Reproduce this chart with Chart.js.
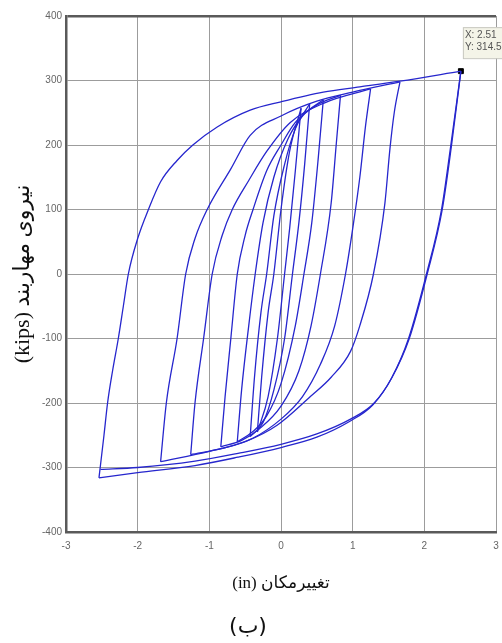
<!DOCTYPE html>
<html>
<head>
<meta charset="utf-8">
<script src="https://cdn.jsdelivr.net/npm/chart.js@4.4.1/dist/chart.umd.min.js"></script>
<style>
  body { margin: 0; background: #fff; }
  canvas { display: block; }
</style>
</head>
<body>
<canvas id="hyst" width="502" height="643"></canvas>
<script>
// hysteresis branches, [displacement (in), force (kips)]
// up = loading from negative peak, down = unloading from positive peak
var up1 = [[-0.33,-245],[-0.27,-160],[-0.18,-60],[-0.1,0],[0,100],[0.12,190],[0.28,257]];
var down1 = [[0.28,257],[0.2,160],[0.12,70],[0.05,0],[-0.05,-100],[-0.18,-190],[-0.33,-245]];
var up2 = [[-0.43,-252],[-0.37,-160],[-0.28,-60],[-0.2,0],[-0.1,90],[0.05,170],[0.2,225],[0.4,264]];
var down2 = [[0.4,264],[0.33,170],[0.25,80],[0.16,0],[0.05,-100],[-0.1,-180],[-0.25,-230],[-0.43,-252]];
var up3 = [[-0.61,-260],[-0.55,-180],[-0.45,-80],[-0.36,0],[-0.25,80],[-0.1,150],[0.1,210],[0.3,245],[0.59,270]];
var down3 = [[0.59,270],[0.52,180],[0.43,80],[0.32,0],[0.2,-80],[0,-170],[-0.2,-220],[-0.4,-245],[-0.61,-260]];
var up4 = [[-0.84,-268],[-0.78,-190],[-0.7,-100],[-0.61,0],[-0.5,60],[-0.39,100],[-0.2,160],[0,200],[0.2,235],[0.5,262],[0.83,277]];
var down4 = [[0.83,277],[0.77,200],[0.7,110],[0.55,0],[0.42,-80],[0.25,-150],[0,-205],[-0.3,-240],[-0.55,-258],[-0.84,-268]];
var up5 = [[-1.26,-280],[-1.2,-200],[-1.08,-100],[-0.96,0],[-0.82,60],[-0.68,100],[-0.45,145],[-0.2,190],[0.13,235],[0.6,265],[1.25,287]];
var down5 = [[1.25,287],[1.18,230],[1.1,150],[1.0,70],[0.9,0],[0.75,-80],[0.55,-140],[0.3,-190],[0,-225],[-0.4,-255],[-0.8,-270],[-1.26,-280]];
var up6 = [[-1.68,-291],[-1.6,-200],[-1.45,-100],[-1.33,0],[-1.2,55],[-1.03,100],[-0.7,163],[-0.43,215],[0,245],[0.5,268],[1.0,282],[1.66,298]];
var down6 = [[1.66,298],[1.58,250],[1.52,194],[1.45,110],[1.29,0],[1.1,-80],[0.97,-120],[0.7,-160],[0.41,-190],[-0.06,-235],[-0.5,-260],[-1.0,-275],[-1.68,-291]];
var up7 = [[-2.54,-316],[-2.47,-250],[-2.42,-200],[-2.35,-150],[-2.27,-100],[-2.2,-50],[-2.13,0],[-2.0,55],[-1.85,100],[-1.68,143],[-1.45,176],[-1.23,200],[-0.89,228],[-0.43,254],[0,267],[0.59,282],[1.1,290],[1.66,299],[2.51,314.5]];
var down7 = [[2.51,314.5],[2.38,200],[2.25,100],[2.04,0],[1.79,-100],[1.55,-160],[1.3,-200],[0.97,-225],[0.5,-248],[0,-264],[-0.6,-278],[-1.2,-290],[-2.0,-300],[-2.52,-303]];
var down7b = [[2.51,314.5],[2.37,200],[2.24,100],[2.03,0],[1.78,-100],[1.54,-162],[1.28,-203],[0.95,-229],[0.5,-253],[0,-269],[-0.6,-284],[-1.2,-297],[-2.0,-308],[-2.54,-316]];

var branches = [up1, down1, up2, down2, up3, down3, up4, down4, up5, down5, up6, down6, up7, down7, down7b];

// data tip shown on the plot
var tipX = 2.51;
var tipY = 314.5;

var xTicks = [-3, -2, -1, 0, 1, 2, 3];
var yTicks = [-400, -300, -200, -100, 0, 100, 200, 300, 400];

var yTitle = '\u202Bنیروی مهاربند (kips)\u202C';
var xTitle = '\u202Bتغییرمکان (in)\u202C';
var figLabel = '\u202B(ب)\u202C';

var lineColor = 'rgb(38,38,205)';
var gridColor = '#9c9c9c';
var frameColor = '#5a5a5a';

var datasets = branches.map(function(b) {
  return {
    data: b.map(function(p) { return {x: p[0], y: p[1]}; }),
    showLine: true,
    borderColor: lineColor,
    borderWidth: 1.3,
    pointRadius: 0,
    cubicInterpolationMode: 'monotone'
  };
});
datasets.push({
  data: [{x: tipX, y: tipY}],
  showLine: false,
  pointStyle: 'rect',
  pointRadius: 3.5,
  backgroundColor: '#000',
  borderColor: '#000'
});

// draws the little data-tip box next to the marker
var dataTip = {
  id: 'dataTip',
  afterDatasetsDraw: function(chart) {
    var ctx = chart.ctx;
    var px = chart.scales.x.getPixelForValue(tipX);
    var py = chart.scales.y.getPixelForValue(tipY);
    ctx.save();
    ctx.fillStyle = '#f4f4e8';
    ctx.strokeStyle = '#c8c8c0';
    ctx.lineWidth = 1;
    ctx.fillRect(px + 2, py - 44, 50, 31);
    ctx.strokeRect(px + 2.5, py - 43.5, 50, 31);
    ctx.fillStyle = '#555';
    ctx.font = '10px "Liberation Sans", Arial, sans-serif';
    ctx.textBaseline = 'middle';
    ctx.fillText('X: ' + tipX, px + 4, py - 36);
    ctx.fillText('Y: ' + tipY, px + 4, py - 24);
    ctx.restore();
  }
};

function tickList(values) {
  return function(scale) {
    scale.ticks = values.map(function(v) { return {value: v}; });
  };
}

var ctx = document.getElementById('hyst').getContext('2d');
var chart = new Chart(ctx, {
  type: 'scatter',
  data: { datasets: datasets },
  options: {
    responsive: false,
    animation: false,
    devicePixelRatio: 1,
    layout: { padding: { top: 16, right: 6, left: 0, bottom: 0 } },
    plugins: {
      legend: { display: false },
      tooltip: { enabled: false },
      title: {
        display: true,
        position: 'bottom',
        text: figLabel,
        color: '#111',
        font: { family: '"DejaVu Sans", sans-serif', size: 22, weight: 'normal' },
        padding: { top: 7, bottom: 3 }
      }
    },
    scales: {
      x: {
        type: 'linear',
        min: -3,
        max: 3,
        afterBuildTicks: tickList(xTicks),
        afterFit: function(s) { s.height = 74.6; s.paddingLeft = 0; s.paddingRight = 0; },
        border: { color: frameColor, width: 2.5 },
        grid: { color: gridColor, lineWidth: 1, drawTicks: false },
        ticks: { color: '#666', padding: 8, font: { size: 10, family: '"Liberation Sans", Arial, sans-serif' } },
        title: {
          display: true,
          text: xTitle,
          color: '#111',
          font: { family: '"Liberation Serif", "DejaVu Sans", serif', size: 17 },
          padding: { top: 0, bottom: 13 }
        }
      },
      y: {
        type: 'linear',
        min: -400,
        max: 400,
        afterBuildTicks: tickList(yTicks),
        afterFit: function(s) { s.width = 66; s.paddingTop = 0; s.paddingBottom = 0; },
        border: { color: frameColor, width: 2.5 },
        grid: {
          drawTicks: false,
          color: function(c) { return c.tick && c.tick.value === 400 ? frameColor : gridColor; },
          lineWidth: function(c) { return c.tick && c.tick.value === 400 ? 2.5 : 1; }
        },
        ticks: { color: '#666', padding: 4, font: { size: 10, family: '"Liberation Sans", Arial, sans-serif' } },
        title: {
          display: true,
          text: yTitle,
          color: '#111',
          font: { family: '"Liberation Serif", "DejaVu Sans", serif', size: 22 },
          padding: { top: 10, bottom: 0 }
        }
      }
    }
  },
  plugins: [dataTip]
});
</script>
</body>
</html>
